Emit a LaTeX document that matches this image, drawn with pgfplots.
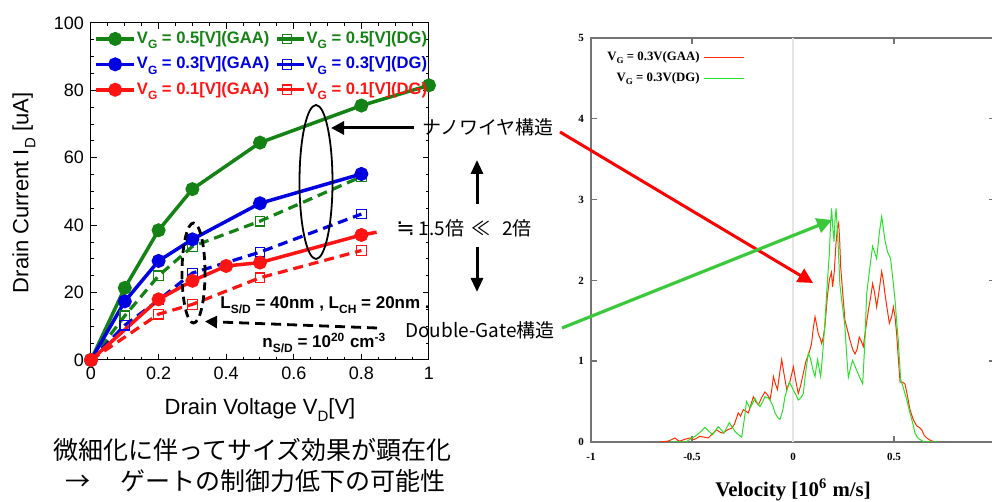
\documentclass[border=0pt]{standalone}
\usepackage{pgfplots}
\pgfplotsset{compat=1.18}
\usetikzlibrary{arrows.meta}
\usepackage{fontspec}
\setmainfont{Liberation Sans}
\newfontfamily\tmsf{Liberation Serif}
\newfontfamily\jp{Noto Sans CJK JP}
\newfontfamily\dvs{DejaVu Sans}
\definecolor{gG}{RGB}{20,130,20}
\definecolor{gB}{RGB}{0,0,225}
\definecolor{gR}{RGB}{255,20,20}
\definecolor{vR}{RGB}{255,45,0}
\definecolor{vG}{RGB}{40,225,40}
\definecolor{arG}{RGB}{60,200,60}
\definecolor{frm}{RGB}{115,115,115}
\newcommand{\sub}[1]{\raisebox{-0.6ex}{\fontsize{6}{6}\selectfont #1}}
\newcommand{\subl}[1]{\raisebox{-0.6ex}{\fontsize{7.5}{7.5}\selectfont #1}}
\newcommand{\subt}[1]{\raisebox{-0.5ex}{\fontsize{4.5}{5}\selectfont #1}}
\begin{document}
\begin{tikzpicture}
\useasboundingbox (0,0) rectangle (496pt,251pt);
% ---------------- left chart ----------------
\begin{axis}[
  at={(45.5pt,71pt)}, anchor=south west, scale only axis,
  width=169pt, height=168.5pt,
  xmin=0, xmax=1, ymin=0, ymax=100,
  xtick={0,0.2,0.4,0.6,0.8,1}, ytick={0,20,40,60,80,100},
  minor x tick num=3, minor y tick num=3,
  tick align=inside, major tick length=3pt, minor tick length=1.6pt,
  axis line style={line width=0.5pt},
  every tick/.style={black, line width=0.5pt},
  ticklabel style={font=\fontsize{9}{10}\selectfont},
  /pgf/number format/assume math mode=true,
  clip=false,
  legend columns=2,
  legend style={at={(0.009,1.0)}, anchor=north west, draw=none, fill=none,
    inner xsep=0pt,
    nodes={inner xsep=0.5pt},
    font=\bfseries\fontsize{8.3}{10}\selectfont, row sep=1.2pt,
    /tikz/every even column/.style={column sep=2.5pt}},
  legend cell align=left,
  legend image code/.code={\draw[#1, solid] (0pt,0pt) -- (19pt,0pt); \draw[#1, solid] plot coordinates {(9.5pt,0pt)};},
  gaa/.style={solid, line width=1.75pt, mark=*, mark size=2.6pt},
  dg/.style={dash pattern=on 5pt off 3pt, line width=1.6pt, mark=square, mark size=2.4pt, mark options={solid, line width=0.6pt, fill=none},
    legend image code/.code={\draw[##1, solid] (0pt,0pt) -- (13.5pt,0pt); \draw[##1, solid] plot coordinates {(5pt,0pt)};}},
]
\addplot[gaa, gG] coordinates {(0,0)(0.1,21.4)(0.2,38.5)(0.3,50.7)(0.5,64.5)(0.8,75.5)(1.0,81.5)};
\addlegendentry{\textcolor{gG}{V\sub{G} = 0.5[V](GAA)}}
\addplot[dg, gG] coordinates {(0,0)(0.1,13.1)(0.2,25.0)(0.3,33.7)(0.5,41.2)(0.8,54.4)};
\addlegendentry{\textcolor{gG}{V\sub{G} = 0.5[V](DG)}}
\addplot[gaa, gB] coordinates {(0,0)(0.1,17.4)(0.2,29.4)(0.3,35.8)(0.5,46.5)(0.8,55.2)};
\addlegendentry{\textcolor{gB}{V\sub{G} = 0.3[V](GAA)}}
\addplot[dg, gB] coordinates {(0,0)(0.1,10.3)(0.2,17.8)(0.3,25.8)(0.5,32.0)(0.8,43.3)};
\addlegendentry{\textcolor{gB}{V\sub{G} = 0.3[V](DG)}}
\addplot[gaa, gR, mark indices={1,2,3,4,5,6}] coordinates {(0,0)(0.2,18.0)(0.3,23.5)(0.4,27.9)(0.5,28.9)(0.8,37.1)(0.845,37.9)};
\addlegendentry{\textcolor{gR}{V\sub{G} = 0.1[V](GAA)}}
\addplot[dg, gR] coordinates {(0,0)(0.2,13.6)(0.3,16.5)(0.5,24.4)(0.8,32.5)};
\addlegendentry{\textcolor{gR}{V\sub{G} = 0.1[V](DG)}}
\end{axis}
% ---------------- right chart ----------------
\begin{axis}[
  at={(295.5pt,30pt)}, anchor=south west, scale only axis,
  width=202pt, height=202pt,
  xmin=-1, xmax=1, ymin=0, ymax=5,
  xtick={-1,-0.5,0,0.5}, ytick={0,1,2,3,4,5},
  tick align=inside, major tick length=3pt,
  axis line style={frm, line width=0.7pt},
  every tick/.style={frm, line width=0.7pt},
  ticklabel style={font=\tmsf\bfseries\fontsize{5.5}{6}\selectfont},
  xticklabel style={yshift=-2pt},
  /pgf/number format/assume math mode=true,
  legend style={at={(0.015,0.986)}, anchor=north west, draw=none, fill=none,
    font=\tmsf\bfseries\fontsize{6.4}{7}\selectfont, row sep=0.3pt},
  legend cell align=right, legend plot pos=right,
  legend image code/.code={\draw[#1] (0pt,0pt) -- (20pt,0pt);},
]
\addplot[gray!20, line width=0.8pt, forget plot] coordinates {(0,0)(0,5)};
\addplot[vR, line width=0.5pt] coordinates {
(-0.66,0)(-0.62,0.01)(-0.60,0.03)(-0.584,0.05)(-0.57,0.02)(-0.560,0.01)(-0.54,0.03)(-0.51,0.05)(-0.49,0.03)(-0.46,0.07)(-0.44,0.06)(-0.419,0.05)(-0.40,0.10)(-0.378,0.15)(-0.36,0.12)(-0.345,0.11)(-0.325,0.15)(-0.304,0.17)(-0.29,0.22)(-0.271,0.36)(-0.26,0.32)(-0.246,0.40)(-0.233,0.38)(-0.221,0.36)(-0.21,0.45)(-0.196,0.56)(-0.185,0.50)(-0.171,0.46)(-0.155,0.55)(-0.139,0.62)(-0.125,0.58)(-0.114,0.52)(-0.105,0.65)(-0.097,0.81)(-0.087,0.72)(-0.077,0.65)(-0.066,0.85)(-0.056,1.02)(-0.045,0.85)(-0.031,0.65)(-0.015,0.75)(0.002,0.93)(0.012,0.78)(0.026,0.60)(0.038,0.70)(0.051,0.85)(0.064,1.00)(0.076,1.08)(0.085,1.15)(0.092,1.22)(0.100,1.40)(0.109,1.55)(0.117,1.45)(0.125,1.34)(0.135,1.28)(0.142,1.22)(0.150,1.30)(0.158,1.43)(0.170,1.80)(0.180,2.01)(0.190,2.10)(0.196,1.92)(0.204,2.10)(0.213,2.46)(0.220,2.65)(0.226,2.71)(0.231,2.50)(0.236,2.17)(0.245,1.88)(0.257,1.51)(0.270,1.38)(0.282,1.26)(0.295,1.15)(0.307,1.09)(0.318,1.15)(0.328,1.30)(0.338,1.25)(0.348,1.18)(0.360,1.40)(0.373,1.63)(0.385,1.80)(0.394,1.96)(0.404,1.85)(0.414,1.67)(0.425,1.85)(0.439,2.11)(0.447,2.00)(0.455,1.84)(0.466,1.65)(0.477,1.47)(0.488,1.55)(0.497,1.67)(0.505,1.55)(0.513,1.34)(0.521,1.05)(0.530,0.74)(0.542,0.74)(0.554,0.72)(0.566,0.58)(0.579,0.40)(0.595,0.28)(0.612,0.20)(0.625,0.18)(0.637,0.15)(0.650,0.08)(0.662,0.05)(0.680,0.02)(0.70,0)};
\addlegendentry{V\subt{G} = 0.3V(GAA)}
\addplot[vG, line width=0.5pt] coordinates {
(-0.61,0)(-0.53,0)(-0.50,0.05)(-0.485,0.07)(-0.46,0.12)(-0.436,0.18)(-0.415,0.13)(-0.398,0.09)(-0.385,0.14)(-0.370,0.19)(-0.355,0.15)(-0.342,0.11)(-0.33,0.17)(-0.315,0.24)(-0.30,0.18)(-0.287,0.13)(-0.27,0.09)(-0.254,0.06)(-0.24,0.30)(-0.230,0.50)(-0.213,0.42)(-0.20,0.48)(-0.188,0.54)(-0.175,0.47)(-0.163,0.44)(-0.15,0.50)(-0.139,0.56)(-0.125,0.55)(-0.114,0.52)(-0.10,0.45)(-0.089,0.36)(-0.075,0.30)(-0.064,0.28)(-0.05,0.40)(-0.040,0.56)(-0.028,0.66)(-0.018,0.74)(-0.005,0.68)(0.002,0.64)(0.015,0.58)(0.026,0.52)(0.04,0.55)(0.051,0.60)(0.062,0.85)(0.076,1.10)(0.084,1.05)(0.092,0.97)(0.100,0.88)(0.109,0.81)(0.115,0.92)(0.122,1.02)(0.130,0.90)(0.137,0.81)(0.147,1.10)(0.158,1.47)(0.168,1.90)(0.180,2.33)(0.186,2.70)(0.191,2.89)(0.197,2.65)(0.203,2.48)(0.208,2.75)(0.213,2.89)(0.218,2.70)(0.224,2.42)(0.232,1.95)(0.241,1.76)(0.249,1.60)(0.257,1.43)(0.265,1.10)(0.274,0.80)(0.285,0.92)(0.295,1.01)(0.305,0.95)(0.315,0.89)(0.33,0.80)(0.345,0.72)(0.355,1.20)(0.365,1.84)(0.38,2.15)(0.394,2.42)(0.404,2.35)(0.414,2.27)(0.428,2.60)(0.439,2.79)(0.447,2.65)(0.455,2.50)(0.468,2.35)(0.483,2.27)(0.495,2.00)(0.505,1.76)(0.513,1.50)(0.521,1.26)(0.533,0.77)(0.545,0.68)(0.560,0.55)(0.579,0.36)(0.593,0.23)(0.604,0.11)(0.618,0.05)(0.629,0.03)(0.650,0)(0.72,0)};
\addlegendentry{V\subt{G} = 0.3V(DG)}
\end{axis}
% ---------------- annotations (pixel coordinates) ----------------
\begin{scope}[x=0.5pt, y=-0.5pt, shift={(0pt,251pt)}]
\node[rotate=90, font=\fontsize{11}{12}\selectfont] at (24,193) {Drain Current I\subl{D} [uA]};
\node[font=\fontsize{11}{12}\selectfont] at (260,410) {Drain Voltage V\subl{D}[V]};
\node[anchor=west, inner sep=0pt, font=\jp\fontsize{12.5}{14}\selectfont] at (53,450) {微細化に伴ってサイズ効果が顕在化};
\node[anchor=west, inner sep=0pt, font=\jp\fontsize{12.5}{14}\selectfont] at (65,481) {→\hspace{1.2em}ゲートの制御力低下の可能性};
% ellipses and arrows
\draw[line width=0.9pt] (316,182) ellipse [x radius=8.25pt, y radius=38.5pt];
\draw[line width=1.5pt, -{Triangle[length=6.5pt,width=6.5pt]}] (414,128) -- (331,128);
\node[anchor=west, inner sep=0pt, font=\jp\fontsize{9.5}{11}\selectfont] at (422,127) {ナノワイヤ構造};
\draw[red, line width=1.5pt, -{Triangle[length=7.5pt,width=7.5pt]}] (560,132) -- (813,283);
\draw[arG, line width=1.6pt, -{Triangle[length=7.5pt,width=7.5pt]}] (562,328) -- (832,220);
\draw[line width=1.5pt, -{Triangle[length=7pt,width=6pt]}] (477,204) -- (477,160);
\draw[line width=1.5pt, -{Triangle[length=7pt,width=6pt]}] (477,247) -- (477,292);
\node[anchor=west, inner sep=0pt, font=\jp\fontsize{9.5}{11}\selectfont] at (396,228) {{\dvs\fontsize{11}{11}\selectfont ≒}\hspace{0.2em}1.5倍\hspace{0.4em}≪\hspace{0.6em}2倍};
\node[font=\jp\fontsize{9.5}{11}\selectfont] at (480,330) {Double-Gate構造};
\draw[line width=1.4pt, dash pattern=on 4pt off 2.5pt] (193.5,273) ellipse [x radius=5.75pt, y radius=25pt];
\draw[line width=1.4pt, dash pattern=on 5pt off 3pt, -{Triangle[length=6pt,width=6pt]}] (377,328) -- (205,321.5);
\node[anchor=west, inner sep=0pt, font=\bfseries\fontsize{8.5}{10}\selectfont] at (220,305) {L\sub{S/D} = 40nm , L\sub{CH} = 20nm .};
\node[anchor=west, inner sep=0pt, font=\bfseries\fontsize{8.5}{10}\selectfont] at (262,343) {n\sub{S/D} = 10\textsuperscript{20} cm\textsuperscript{-3}};
\node[font=\tmsf\bfseries\fontsize{10.4}{12}\selectfont] at (793,490) {Velocity [10\textsuperscript{6} m/s]};
\end{scope}
\end{tikzpicture}
\end{document}
